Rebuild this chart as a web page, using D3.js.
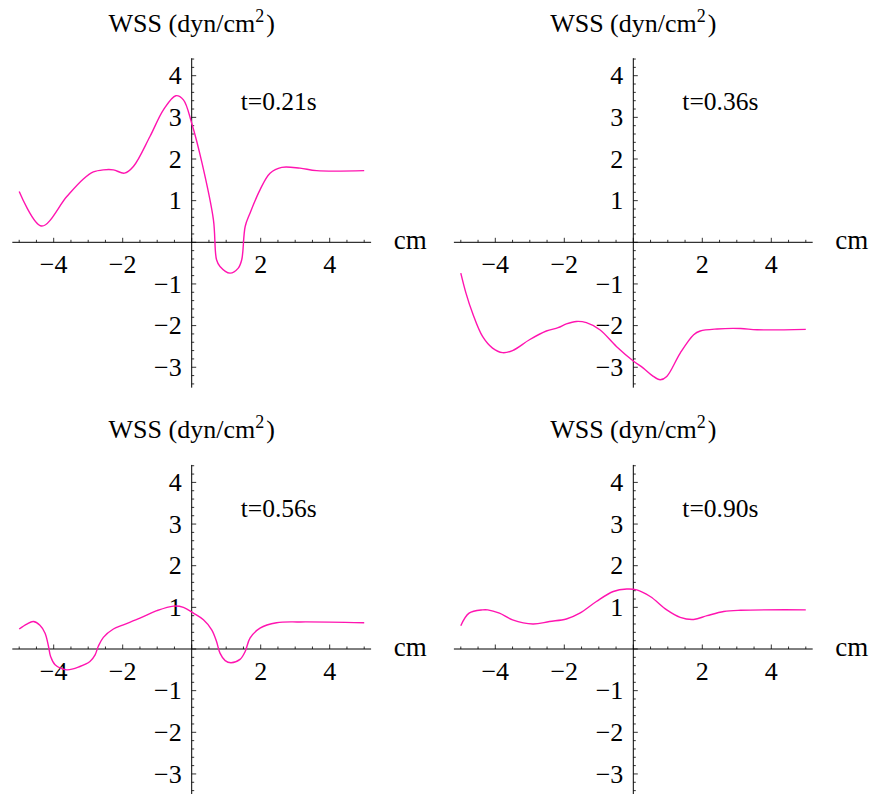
<!DOCTYPE html>
<html>
<head>
  <meta charset="utf-8">
  <script src="https://d3js.org/d3.v7.min.js"></script>
  <style>
    body { margin: 0; background: #fff; }
  </style>
</head>
<body>
<div id="chart"></div>
<script>
// panel labels
const times = ["t=0.21s", "t=0.36s", "t=0.56s", "t=0.90s"];
const xTicks = [-4, -2, 2, 4];
const yTicks = [-3, -2, -1, 1, 2, 3, 4];

// WSS curves: position (cm) and WSS (dyn/cm2)
const x021 = [-5, -4.35, -3.62, -3.14, -2.85, -2.56, -2.27, -1.95, -1.69, -1.21, -0.82, -0.46, -0.24, 0, 0.30, 0.63, 0.72, 0.82, 1.11, 1.35, 1.45, 1.55, 1.69, 1.98, 2.27, 2.61, 3.14, 3.62, 5];
const y021 = [1.22, 0.39, 1.10, 1.52, 1.69, 1.74, 1.74, 1.66, 1.82, 2.54, 3.18, 3.52, 3.42, 2.86, 1.90, 0.54, -0.42, -0.58, -0.74, -0.62, -0.42, 0.38, 0.70, 1.26, 1.66, 1.80, 1.78, 1.72, 1.72];

const x036 = [-5, -4.85, -4.66, -4.37, -4.08, -3.79, -3.50, -3.01, -2.52, -2.18, -1.94, -1.65, -1.36, -0.97, -0.49, 0, 0.29, 0.55, 0.78, 0.97, 1.36, 1.75, 1.94, 2.43, 3.11, 3.59, 5];
const y036 = [-0.74, -1.22, -1.70, -2.26, -2.54, -2.65, -2.60, -2.34, -2.13, -2.05, -1.96, -1.90, -1.93, -2.10, -2.50, -2.85, -3.02, -3.20, -3.30, -3.22, -2.66, -2.22, -2.13, -2.08, -2.07, -2.10, -2.09];

const x056 = [-5, -4.78, -4.59, -4.40, -4.25, -4.15, -4.09, -3.96, -3.62, -3.24, -2.95, -2.80, -2.71, -2.56, -2.27, -1.98, -1.50, -1.01, -0.53, -0.24, 0.05, 0.34, 0.58, 0.72, 0.82, 0.97, 1.14, 1.40, 1.55, 1.69, 1.98, 2.46, 3.14, 5];
const y056 = [0.48, 0.60, 0.66, 0.57, 0.38, 0.06, -0.18, -0.38, -0.50, -0.42, -0.30, -0.14, 0.06, 0.28, 0.48, 0.58, 0.74, 0.92, 1.03, 1.00, 0.86, 0.70, 0.46, 0.18, -0.10, -0.28, -0.33, -0.25, -0.06, 0.26, 0.50, 0.63, 0.65, 0.63];

const x090 = [-5, -4.76, -4.37, -4.22, -3.88, -3.50, -2.91, -2.43, -1.94, -1.55, -1.07, -0.58, -0.19, 0.10, 0.49, 0.97, 1.36, 1.75, 2.14, 2.62, 3.11, 5];
const y090 = [0.56, 0.86, 0.94, 0.94, 0.86, 0.70, 0.60, 0.66, 0.72, 0.86, 1.14, 1.38, 1.44, 1.42, 1.26, 0.94, 0.76, 0.71, 0.80, 0.90, 0.93, 0.94];

const curves = [[x021, y021], [x036, y036], [x056, y056], [x090, y090]];

const width = 871, height = 794;
const lineColor = "#ff14b0";
const serif = "'Liberation Serif', 'Times New Roman', Times, 'DejaVu Serif', serif";

const svg = d3.select("#chart").append("svg")
  .attr("width", width)
  .attr("height", height)
  .attr("font-family", serif);

// origin of each panel
const cols = [191.7, 633.3];
const rows = [242.3, 649];

const fmt = d => d < 0 ? "\u2212" + Math.abs(d) : String(d);

curves.forEach((c, i) => {
  const ox = cols[i % 2], oy = rows[Math.floor(i / 2)];
  const x = d3.scaleLinear().domain([0, 1]).range([ox, ox + 34.5]);
  const y = d3.scaleLinear().domain([0, 1]).range([oy, oy - 41.65]);
  const g = svg.append("g");

  // x axis through the origin, ticks pointing up
  const xa = g.append("g").attr("transform", `translate(0,${oy})`);
  xa.append("line")
    .attr("x1", x(-5.2)).attr("x2", x(5.2))
    .attr("stroke", "#000").attr("stroke-width", 1);
  xa.selectAll(".xmin").data(d3.range(-5, 5.01, 0.5))
    .join("line")
    .attr("x1", d => x(d)).attr("x2", d => x(d))
    .attr("y1", 0).attr("y2", d => Number.isInteger(d / 2) ? -4.5 : -2.5)
    .attr("stroke", "#000").attr("stroke-width", 0.8);
  xa.selectAll(".xl").data(xTicks)
    .join("text")
    .attr("x", d => x(d))
    .attr("y", 31)
    .attr("text-anchor", "middle")
    .attr("font-size", 26)
    .text(fmt);

  // y axis, ticks pointing right
  const ya = g.append("g").attr("transform", `translate(${ox},0)`);
  ya.append("line")
    .attr("y1", y(4.42)).attr("y2", y(-3.49))
    .attr("stroke", "#000").attr("stroke-width", 1);
  ya.selectAll(".ymin").data(d3.range(-17, 23).map(k => k / 5))
    .join("line")
    .attr("y1", d => y(d)).attr("y2", d => y(d))
    .attr("x1", 0).attr("x2", d => Math.abs(d - Math.round(d)) < 1e-9 ? 4.5 : 2.5)
    .attr("stroke", "#000").attr("stroke-width", 0.8);
  ya.selectAll(".yl").data(yTicks)
    .join("text")
    .attr("x", -10)
    .attr("y", d => y(d))
    .attr("dy", "0.33em")
    .attr("text-anchor", "end")
    .attr("font-size", 26)
    .text(fmt);

  // labels
  const title = g.append("text")
    .attr("x", ox).attr("y", oy - 210.6)
    .attr("text-anchor", "middle")
    .attr("font-size", 26);
  title.append("tspan").text("WSS (dyn/cm");
  title.append("tspan").attr("font-size", 18).attr("dy", -10).text("2");
  title.append("tspan").attr("dy", 10).attr("dx", 2).text(")");

  g.append("text")
    .attr("x", ox + 202).attr("y", oy + 6.5)
    .attr("font-size", 27)
    .text("cm");

  g.append("text")
    .attr("x", ox + 49).attr("y", oy - 132)
    .attr("font-size", 25.5)
    .text(times[i]);

  const pts = c[0].map((v, k) => [v, c[1][k]]);
  g.append("path")
    .datum(pts)
    .attr("fill", "none")
    .attr("stroke", lineColor)
    .attr("stroke-width", 1.4)
    .attr("d", d3.line().x(d => x(d[0])).y(d => y(d[1])).curve(d3.curveCatmullRom.alpha(0.5)));
});
</script>
</body>
</html>
